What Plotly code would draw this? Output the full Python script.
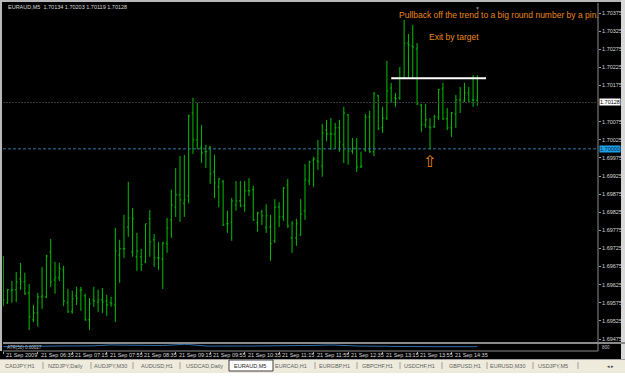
import plotly.graph_objects as go

# ---------------- data ----------------
symbol = "EURAUD,M5"
bar_index = list(range(1, 112))
opens = [1.69666,1.69575,1.69608,1.69611,1.69641,1.69633,1.69602,1.69528,1.69547,1.69591,
         1.69591,1.69715,1.69638,1.69644,1.69666,1.69575,1.69550,1.69594,1.69608,1.69594,
         1.69528,1.69583,1.69577,1.69583,1.69580,1.69575,1.69569,1.69707,1.69724,1.69784,
         1.69715,1.69702,1.69702,1.69688,1.69807,1.69749,1.69699,1.69696,1.69738,1.69804,
         1.69839,1.69873,1.69850,1.69870,1.70099,1.70025,1.70005,1.69992,1.70005,1.69936,
         1.69895,1.69909,1.69793,1.69798,1.69845,1.69856,1.69842,1.69884,1.69887,1.69796,
         1.69826,1.69782,1.69784,1.69746,1.69839,1.69812,1.69900,1.69754,1.69754,1.69762,
         1.69829,1.69911,1.69969,1.69967,1.69953,1.70052,1.70041,1.70041,1.70058,1.70011,
         1.70094,1.69994,1.70002,1.69950,1.69997,1.70088,1.69992,1.70146,1.70058,1.70085,
         1.70168,1.70141,1.70141,1.70196,1.70292,1.70284,1.70276,1.70121,1.70066,1.70061,
         1.70061,1.70088,1.70165,1.70083,1.70058,1.70096,1.70135,1.70132,1.70154,1.70135,
         1.70134]
highs = [1.69704,1.69613,1.69635,1.69660,1.69685,1.69658,1.69627,1.69569,1.69602,1.69674,
         1.69707,1.69751,1.69688,1.69685,1.69677,1.69613,1.69608,1.69619,1.69619,1.69600,
         1.69588,1.69619,1.69611,1.69616,1.69597,1.69591,1.69782,1.69749,1.69818,1.69909,
         1.69837,1.69768,1.69724,1.69793,1.69831,1.69765,1.69743,1.69743,1.69809,1.69887,
         1.69947,1.69980,1.69983,1.70094,1.70141,1.70127,1.70066,1.70011,1.70008,1.69983,
         1.69919,1.69914,1.69829,1.69864,1.69911,1.69911,1.69911,1.69919,1.69898,1.69826,
         1.69831,1.69847,1.69818,1.69861,1.69853,1.69895,1.69917,1.69801,1.69807,1.69861,
         1.69958,1.69967,1.69978,1.70025,1.70069,1.70080,1.70085,1.70072,1.70080,1.70116,
         1.70096,1.70030,1.70030,1.69992,1.70096,1.70105,1.70157,1.70149,1.70116,1.70243,
         1.70182,1.70154,1.70226,1.70356,1.70317,1.70342,1.70292,1.70124,1.70124,1.70085,
         1.70094,1.70165,1.70182,1.70113,1.70102,1.70149,1.70171,1.70182,1.70171,1.70204,
         1.70203]
lows = [1.69566,1.69572,1.69575,1.69577,1.69611,1.69597,1.69500,1.69522,1.69509,1.69558,
        1.69588,1.69619,1.69600,1.69635,1.69566,1.69547,1.69545,1.69569,1.69553,1.69525,
        1.69500,1.69564,1.69550,1.69547,1.69539,1.69564,1.69522,1.69630,1.69699,1.69757,
        1.69702,1.69663,1.69663,1.69685,1.69702,1.69674,1.69666,1.69613,1.69713,1.69754,
        1.69812,1.69798,1.69812,1.69850,1.69986,1.70000,1.69961,1.69947,1.69903,1.69864,
        1.69839,1.69787,1.69768,1.69746,1.69829,1.69839,1.69826,1.69870,1.69801,1.69771,
        1.69790,1.69768,1.69691,1.69740,1.69784,1.69801,1.69782,1.69713,1.69732,1.69760,
        1.69804,1.69900,1.69895,1.69942,1.69923,1.70022,1.69997,1.70000,1.69992,1.69961,
        1.69956,1.69986,1.69936,1.69947,1.69992,1.69989,1.69980,1.70052,1.70044,1.70080,
        1.70127,1.70116,1.70135,1.70193,1.70196,1.70196,1.70121,1.70047,1.70058,1.69998,
        1.70058,1.70080,1.70080,1.70052,1.70033,1.70058,1.70099,1.70129,1.70127,1.70116,
        1.70119]
closes = [1.69583,1.69611,1.69611,1.69633,1.69633,1.69600,1.69536,1.69547,1.69591,1.69594,
          1.69704,1.69633,1.69644,1.69669,1.69580,1.69550,1.69586,1.69588,1.69611,1.69528,
          1.69572,1.69580,1.69583,1.69577,1.69569,1.69572,1.69718,1.69724,1.69724,1.69809,
          1.69807,1.69718,1.69680,1.69793,1.69743,1.69699,1.69699,1.69740,1.69782,1.69845,
          1.69873,1.69859,1.69859,1.70091,1.70025,1.70000,1.69989,1.69992,1.69931,1.69906,
          1.69917,1.69790,1.69793,1.69856,1.69856,1.69842,1.69884,1.69884,1.69804,1.69823,
          1.69815,1.69815,1.69738,1.69839,1.69812,1.69892,1.69787,1.69793,1.69793,1.69820,
          1.69914,1.69964,1.69972,1.69964,1.70044,1.70041,1.70041,1.70058,1.70019,1.70099,
          1.69994,1.70002,1.69950,1.69953,1.70088,1.69992,1.70152,1.70055,1.70085,1.70160,
          1.70129,1.70138,1.70196,1.70292,1.70287,1.70281,1.70124,1.70066,1.70080,1.70058,
          1.70088,1.70163,1.70083,1.70058,1.70099,1.70135,1.70129,1.70154,1.70129,1.70135,
          1.70128]

# lower indicator window (rough reading)
indicator = [4.3,4.4,4.3,4.2,4.3,4.4,4.5,4.4,4.6,4.9,5.0,5.1,5.0,4.9,5.0,5.1,5.0,4.9,5.0,5.1,
             5.0,5.2,5.4,5.8,6.0,6.1,6.0,5.9,6.1,6.0,5.9,5.8,5.6,5.5,5.4,5.5,5.6,5.5,5.7,6.0,
             6.4,6.6,6.7,6.5,6.0,5.4,5.1,5.0,4.9,5.0,5.1,5.0,4.9,5.0,5.1,5.0,5.0,4.9,5.0,5.1,
             5.0,5.2,5.3,5.4,5.5,5.6,5.5,5.4,5.6,5.5,5.4,5.6,5.7,5.9,6.0,6.1,6.0,5.9,5.6,5.2,
             5.0,5.1,5.0,4.9,5.0,5.1,5.0,4.9,5.0,4.8,4.6,4.5,4.4,4.3,4.3,4.4,4.3,4.2,4.3,4.4,
             4.3,4.3,4.2,4.3,4.4,4.3,4.3,4.2,4.3,4.3,4.3]

time_label_bars = [1, 9, 17, 25, 33, 41, 49, 57, 65, 73, 81, 89, 97, 105]
time_labels = ["21 Sep 2009", "21 Sep 06:35", "21 Sep 07:15", "21 Sep 07:55", "21 Sep 08:35",
               "21 Sep 09:15", "21 Sep 09:55", "21 Sep 10:35", "21 Sep 11:15", "21 Sep 11:55",
               "21 Sep 12:35", "21 Sep 13:15", "21 Sep 13:55", "21 Sep 14:35"]
price_ticks = [1.69475, 1.69525, 1.69575, 1.69625, 1.69675, 1.69725, 1.69775, 1.69825,
               1.69875, 1.69925, 1.69975, 1.70025, 1.70075, 1.70175, 1.70225, 1.70275,
               1.70325, 1.70375]
round_level = 1.70000
target_level = 1.70195
target_start_bar = 91
target_end_bar = 113
pin_bar = 100
tabs = ["CADJPY,H1", "NZDJPY,Daily", "AUDJPY,M30", "AUDUSD,H1", "USDCAD,Daily", "EURAUD,M5",
        "EURCAD,H1", "EURGBP,H1", "GBPCHF,H1", "USDCHF,H1", "GBPUSD,H1", "EURUSD,M30", "USDJPY,M5"]
note_1 = "Pullback off the trend to a big round number by a pin."
note_2 = "Exit by target"

# ---------------- layout geometry ----------------
W, H = 625, 377
ML, MR, MT, MB = 3, 27, 3, 26
PW, PH = W - ML - MR, H - MT - MB


def pxx(px):
    return (px - ML) / PW


def pxy(py):
    return (H - MB - py) / PH


GREEN = "#00C000"
ORANGE = "#E8891E"
LABEL = "#D8D8D8"
FONT = "Liberation Sans, Arial, sans-serif"
TINY = 5.5

fig = go.Figure()
fig.add_trace(go.Ohlc(
    x=bar_index, open=opens, high=highs, low=lows, close=closes,
    increasing=dict(line=dict(color=GREEN, width=1)),
    decreasing=dict(line=dict(color=GREEN, width=1)),
    tickwidth=0.3, hoverinfo="skip", xaxis="x", yaxis="y"))
fig.add_trace(go.Scatter(
    x=bar_index, y=indicator, mode="lines", line=dict(color="#2F6FB0", width=1),
    hoverinfo="skip", xaxis="x", yaxis="y2"))

x_lo = 1 + (ML - 3.3) / 4.31
x_hi = 1 + (ML + PW - 3.3) / 4.31
main_bottom = pxy(342)
ppu = (339 - 13) / (price_ticks[-1] - price_ticks[0])
y_top = price_ticks[-1] + (13 - MT) / ppu
y_bot = price_ticks[0] - (342 - 339) / ppu

fig.update_layout(
    width=W, height=H, margin=dict(l=ML, r=MR, t=MT, b=MB),
    paper_bgcolor="#000000", plot_bgcolor="#000000", showlegend=False,
    font=dict(family=FONT, color=LABEL, size=TINY),
    xaxis=dict(range=[x_lo, x_hi], rangeslider=dict(visible=False), showgrid=False,
               zeroline=False, showticklabels=False, ticks="outside", ticklen=2,
               tickcolor="#A0A0A0", tickvals=time_label_bars, anchor="free", position=0,
               fixedrange=True),
    yaxis=dict(domain=[main_bottom, 1], range=[y_bot, y_top], side="right", showgrid=False,
               zeroline=False, tickvals=price_ticks, ticktext=[f"{v:.5f}" for v in price_ticks],
               ticks="outside", ticklen=2, tickcolor="#A0A0A0",
               tickfont=dict(size=TINY, color=LABEL, family=FONT), fixedrange=True),
    yaxis2=dict(domain=[0, pxy(344)], range=[0, 7], side="right", showgrid=False,
                zeroline=False, showticklabels=False, fixedrange=True),
)

shapes = []
# frame pieces
shapes.append(dict(type="rect", xref="paper", yref="paper", x0=pxx(0), x1=pxx(2),
                   y0=pxy(351), y1=pxy(0), fillcolor="#B8B8B8", line=dict(width=0)))
shapes.append(dict(type="rect", xref="paper", yref="paper", x0=pxx(0), x1=pxx(625),
                   y0=pxy(2), y1=pxy(0), fillcolor="#B8B8B8", line=dict(width=0)))
shapes.append(dict(type="rect", xref="paper", yref="paper", x0=pxx(621), x1=pxx(625),
                   y0=pxy(360), y1=pxy(0), fillcolor="#D8D8D8", line=dict(width=0)))
shapes.append(dict(type="line", xref="paper", yref="paper", x0=1, x1=1, y0=0, y1=pxy(3),
                   line=dict(color="#909090", width=1)))
shapes.append(dict(type="line", xref="paper", yref="paper", x0=0, x1=pxx(625), y0=pxy(343),
                   y1=pxy(343), line=dict(color="#8A8A8A", width=2)))
shapes.append(dict(type="line", xref="paper", yref="paper", x0=0, x1=1, y0=0, y1=0,
                   line=dict(color="#8A8A8A", width=1)))
# tab bar
shapes.append(dict(type="rect", xref="paper", yref="paper", x0=pxx(0), x1=pxx(625),
                   y0=pxy(373), y1=pxy(359), fillcolor="#EEEBDD", line=dict(width=0)))
shapes.append(dict(type="line", xref="paper", yref="paper", x0=pxx(0), x1=pxx(625),
                   y0=pxy(359.5), y1=pxy(359.5), line=dict(color="#A0A0A0", width=1)))
shapes.append(dict(type="rect", xref="paper", yref="paper", x0=pxx(0), x1=pxx(625),
                   y0=pxy(377), y1=pxy(373), fillcolor="#FFFFFF", line=dict(width=0)))
shapes.append(dict(type="rect", xref="paper", yref="paper", x0=pxx(229), x1=pxx(273),
                   y0=pxy(371), y1=pxy(360), fillcolor="#FFFFFF",
                   line=dict(color="#404040", width=1)))
# price lines
shapes.append(dict(type="line", xref="paper", yref="y", x0=0, x1=1, y0=closes[-1],
                   y1=closes[-1], line=dict(color="#3A3A3A", width=1, dash="2px,1px")))
shapes.append(dict(type="line", xref="paper", yref="y", x0=0, x1=1, y0=round_level,
                   y1=round_level, line=dict(color="#3478A4", width=1, dash="3px,2px")))
shapes.append(dict(type="line", xref="x", yref="y", x0=target_start_bar, x1=target_end_bar,
                   y0=target_level, y1=target_level, line=dict(color="#FFFFFF", width=2)))

ann = []
ann.append(dict(xref="paper", yref="paper", x=pxx(6), y=pxy(7), xanchor="left", yanchor="middle",
                text=f"{symbol}  {opens[-1]:.5f} {highs[-1]:.5f} {lows[-1]:.5f} {closes[-1]:.5f}",
                showarrow=False, font=dict(size=TINY, color=LABEL)))
ann.append(dict(xref="paper", yref="paper", x=pxx(397), y=pxy(15), xanchor="left",
                yanchor="middle", text=note_1, showarrow=False,
                font=dict(size=8.5, color=ORANGE, family=FONT)))
ann.append(dict(xref="paper", yref="paper", x=pxx(427), y=pxy(37), xanchor="left",
                yanchor="middle", text=note_2, showarrow=False,
                font=dict(size=8.5, color=ORANGE, family=FONT)))
ann.append(dict(xref="x", yref="y", x=bar_index[pin_bar - 1], y=lows[pin_bar - 1], yshift=-12,
                xanchor="center", yanchor="middle", text="⇧", showarrow=False,
                font=dict(size=16, color=ORANGE, family="DejaVu Sans")))
ann.append(dict(xref="paper", yref="y", x=1, y=closes[-1], xanchor="left", yanchor="middle",
                text=f"{closes[-1]:.5f}", showarrow=False, bgcolor="#FFFFFF",
                font=dict(size=TINY, color="#000000"), borderpad=0, xshift=1))
ann.append(dict(xref="paper", yref="y", x=1, y=round_level, xanchor="left", yanchor="middle",
                text=f"{round_level:.5f}", showarrow=False, bgcolor="#1EA0E6",
                font=dict(size=TINY, color="#002040"), borderpad=0, xshift=1))
ann.append(dict(xref="x", yref="paper", x=bar_index[-1], y=1, yanchor="top", text="▼",
                showarrow=False, font=dict(size=5, color="#808080")))
for b, t in zip(time_label_bars, time_labels):
    ann.append(dict(xref="x", yref="paper", x=b, y=pxy(354.5), xanchor="left", yanchor="middle",
                    text=t, showarrow=False, xshift=1, font=dict(size=TINY, color=LABEL)))
# sub window label
ann.append(dict(xref="paper", yref="paper", x=pxx(5), y=pxy(347), xanchor="left", yanchor="middle",
                text="ATR(50) 0.00027", showarrow=False, font=dict(size=4.5, color="#C0C0C0")))
ann.append(dict(xref="paper", yref="paper", x=1, y=pxy(347), xanchor="left", yanchor="middle",
                text="800", showarrow=False, xshift=2, font=dict(size=4.5, color="#C0C0C0")))
# tabs
tab_centers = [20, 65, 110, 156.5, 204, 249.5, 290.5, 334.5, 377.5, 419.5, 464.5, 507.5, 553]
for c, t in zip(tab_centers, tabs):
    ann.append(dict(xref="paper", yref="paper", x=pxx(c), y=pxy(366), xanchor="center",
                    yanchor="middle", text=t, showarrow=False,
                    font=dict(size=TINY, color="#202020" if t == symbol else "#606060")))
for s in [43, 91, 133, 180, 315, 357, 400, 442, 487, 533, 578]:
    shapes.append(dict(type="line", xref="paper", yref="paper", x0=pxx(s), x1=pxx(s),
                       y0=pxy(369), y1=pxy(362), line=dict(color="#A0A0A0", width=1)))
ann.append(dict(xref="paper", yref="paper", x=pxx(610), y=pxy(366), xanchor="center",
                yanchor="middle", text="◂ ▸", showarrow=False, font=dict(size=5, color="#404040")))

fig.update_layout(shapes=shapes, annotations=ann)
fig.write_html("out.html", config={"displayModeBar": False, "staticPlot": True})
